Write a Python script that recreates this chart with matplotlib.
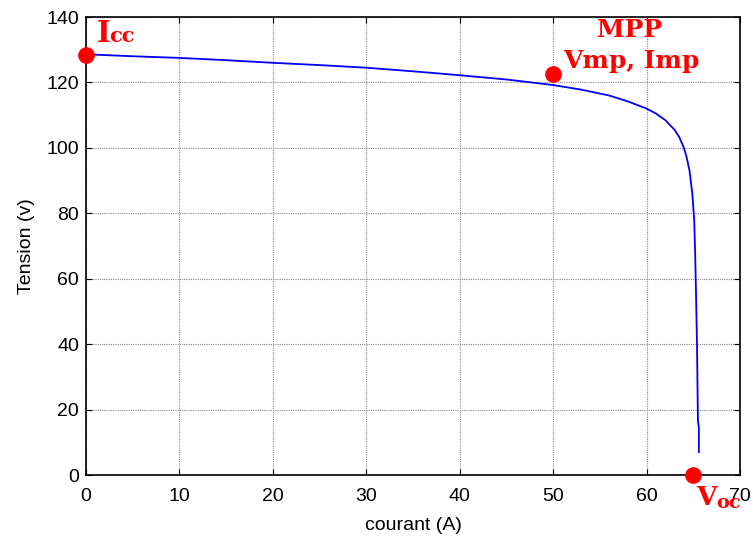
import matplotlib
matplotlib.use("Agg")
import matplotlib.pyplot as plt

# I-V curve data (current A, voltage V)
courant = [0, 5, 10, 15, 20, 25, 30, 35, 40, 45, 50, 53, 56, 58, 60, 61, 62, 63, 63.5, 64, 64.3, 64.6, 64.9, 65.1, 65.2, 65.3, 65.4, 65.45, 65.5, 65.6, 65.6]
tension = [128.6, 128.0, 127.5, 126.8, 126.0, 125.3, 124.5, 123.4, 122.2, 120.9, 119.2, 117.8, 116.0, 114.2, 112.0, 110.5, 108.5, 105.5, 103.3, 100.0, 97.0, 93.0, 86.0, 78.0, 68.0, 55.0, 40.0, 28.0, 16.5, 14.5, 7.0]

# Key points
pts_x = [0, 50, 65]
pts_y = [128.5, 122.5, 0]

xticks = [0, 10, 20, 30, 40, 50, 60, 70]
yticks = [0, 20, 40, 60, 80, 100, 120, 140]

fig = plt.figure(figsize=(7.53, 5.38), dpi=100)
ax = fig.add_axes([0.1142, 0.1171, 0.8685, 0.8513])

ax.plot(courant, tension, color="#0000ff", lw=1.3, zorder=3)
ax.plot(pts_x, pts_y, "o", color="red", ms=11, clip_on=False, zorder=5)

ax.set_xlim(0, 70)
ax.set_ylim(0, 140)
ax.set_xticks(xticks)
ax.set_yticks(yticks)
ax.grid(True, color="#8a8a8a", linestyle=(0, (1, 1)), lw=0.8)
ax.tick_params(direction="in", top=True, right=True, length=4, labelsize=14)
ax.tick_params(axis="x", pad=9)
ax.tick_params(axis="y", pad=5)
for lab in ax.get_xticklabels() + ax.get_yticklabels():
    lab.set_family("Liberation Sans")
for s in ax.spines.values():
    s.set_linewidth(1.2)
ax.set_xlabel("courant (A)", fontsize=14, family="Liberation Sans", labelpad=9)
ax.set_ylabel("Tension (v)", fontsize=14, family="Liberation Sans", labelpad=8)

fnt = dict(color="red", fontweight="bold", family="DejaVu Serif", va="baseline", clip_on=False)
ax.text(1.15, 132.4, "I", fontsize=21, ha="left", **fnt)
ax.text(2.5, 132.4, "cc", fontsize=15, ha="left", **fnt)
ax.text(58.2, 134.0, "MPP", fontsize=18, ha="center", **fnt)
ax.text(58.4, 124.5, "Vmp, Imp", fontsize=18, ha="center", **fnt)
ax.text(65.3, -9.2, "V", fontsize=19, ha="left", **fnt)
ax.text(67.5, -10.1, "oc", fontsize=14, ha="left", **fnt)

fig.savefig("out.png", dpi=100)
